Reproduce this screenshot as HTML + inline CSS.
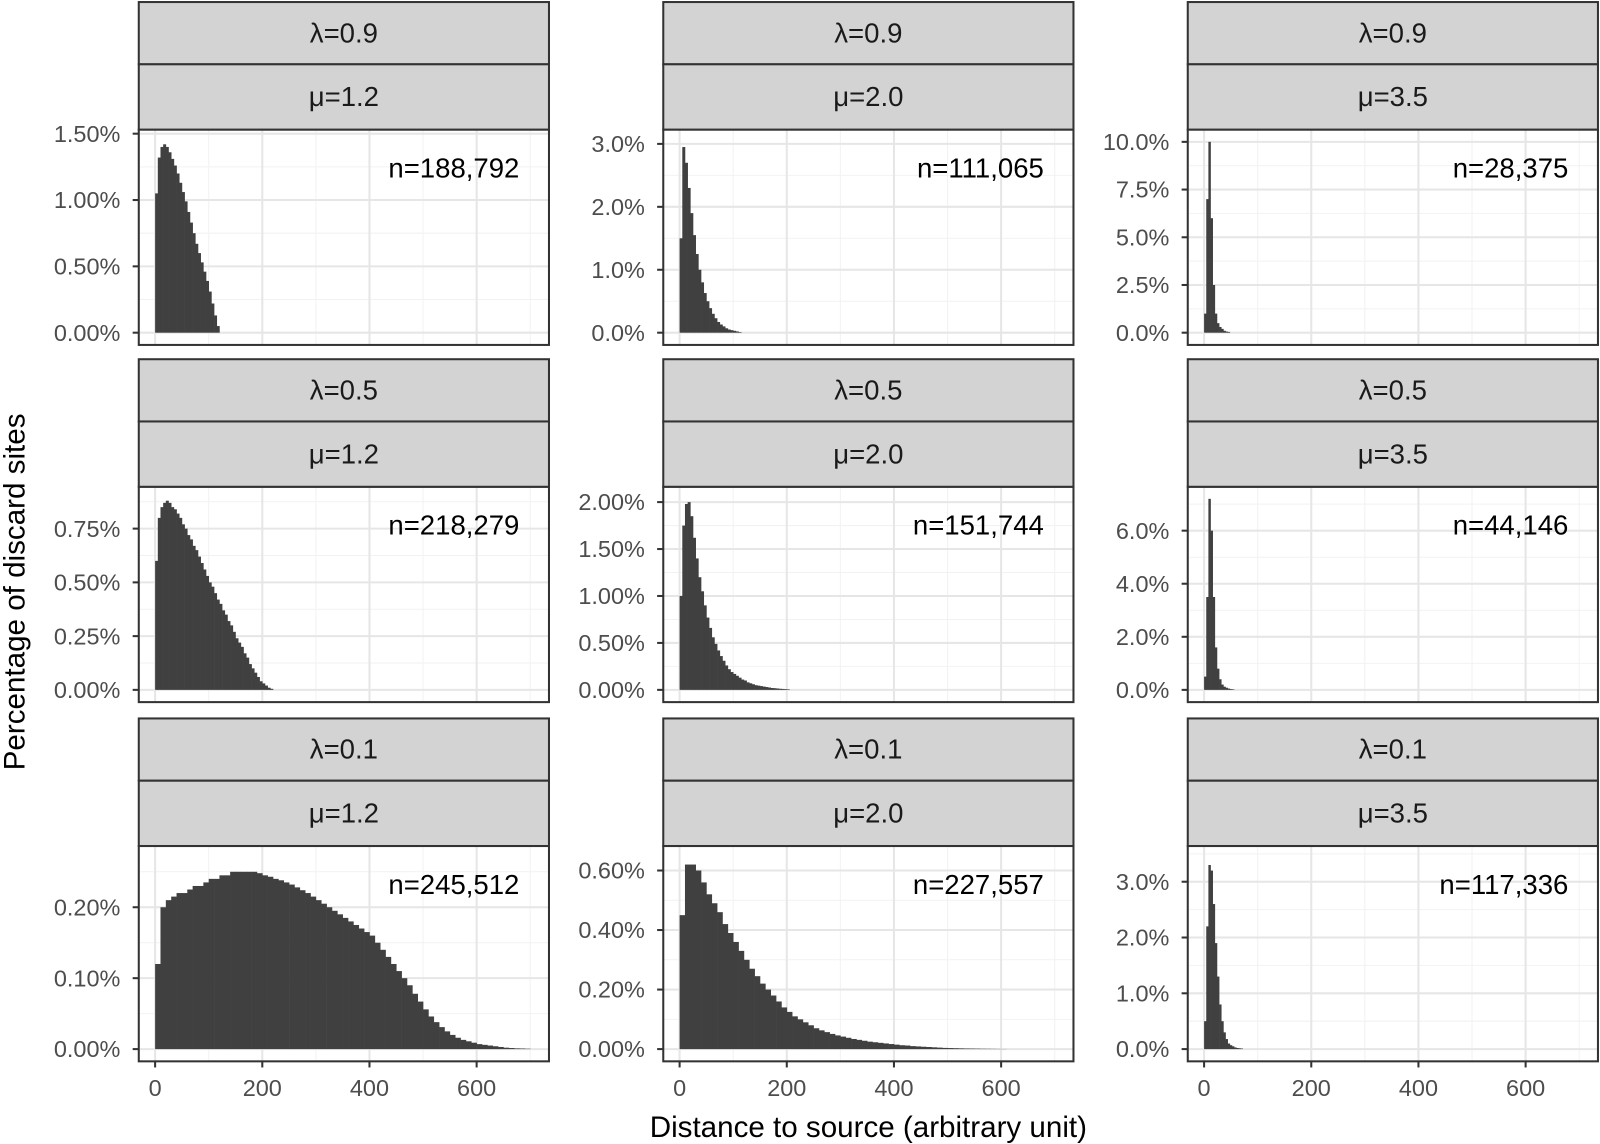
<!DOCTYPE html>
<html><head><meta charset="utf-8">
<style>
html,body{margin:0;padding:0;background:#fff;}
svg{display:block;font-family:"Liberation Sans",Arial,sans-serif;}
</style></head>
<body>
<svg id="chart" width="1600" height="1144" viewBox="0 0 1568 1121" preserveAspectRatio="none"></svg>
<script>
// ---- data ----
const lambdas = ["0.9","0.5","0.1"];
const mus = ["1.2","2.0","3.5"];
const counts = ["n=188,792","n=111,065","n=28,375","n=218,279","n=151,744","n=44,146","n=245,512","n=227,557","n=117,336"];
const binWidths = [5,5,4,5,5,4,10,10,4];
const yMaxes = [1.5,3.0,10.0,0.75,2.0,6.0,0.2,0.6,3.0];
const yTicks0 = ["0.00%","0.50%","1.00%","1.50%"];
const yTicks1 = ["0.0%","1.0%","2.0%","3.0%"];
const yTicks2 = ["0.0%","2.5%","5.0%","7.5%","10.0%"];
const yTicks3 = ["0.00%","0.25%","0.50%","0.75%"];
const yTicks4 = ["0.00%","0.50%","1.00%","1.50%","2.00%"];
const yTicks5 = ["0.0%","2.0%","4.0%","6.0%"];
const yTicks6 = ["0.00%","0.10%","0.20%"];
const yTicks7 = ["0.00%","0.20%","0.40%","0.60%"];
const yTicks8 = ["0.0%","1.0%","2.0%","3.0%"];
const xTicks = [0,200,400,600];
const vals0 = [1.05,1.32,1.40,1.42,1.40,1.36,1.31,1.26,1.20,1.13,1.06,0.99,0.91,0.83,0.75,0.67,0.60,0.53,0.46,0.39,0.31,0.22,0.13,0.05];
const vals1 = [1.5,2.95,2.7,2.3,1.9,1.55,1.25,1.0,0.8,0.63,0.5,0.39,0.3,0.23,0.17,0.13,0.1,0.07,0.05,0.04,0.03,0.02,0.01];
const vals2 = [1.0,7.0,10.0,6.0,2.5,1.0,0.5,0.3,0.2,0.1,0.06,0.04];
const vals3 = [0.6,0.8,0.85,0.87,0.88,0.87,0.85,0.84,0.82,0.8,0.77,0.75,0.72,0.7,0.67,0.65,0.62,0.59,0.56,0.53,0.5,0.48,0.45,0.42,0.4,0.37,0.35,0.32,0.3,0.27,0.24,0.22,0.2,0.17,0.15,0.12,0.1,0.08,0.06,0.04,0.03,0.02,0.01,0.005];
const vals4 = [1.0,1.75,1.98,2.0,1.85,1.62,1.4,1.2,1.05,0.9,0.77,0.66,0.56,0.49,0.42,0.36,0.31,0.26,0.22,0.19,0.17,0.15,0.13,0.11,0.1,0.08,0.07,0.06,0.05,0.045,0.04,0.035,0.03,0.025,0.02,0.018,0.015,0.012,0.01,0.008,0.006];
const vals5 = [0.5,3.5,7.2,6.0,3.5,1.6,0.8,0.4,0.2,0.12,0.08,0.05,0.03,0.02];
const vals6 = [0.12,0.2,0.21,0.215,0.22,0.22,0.225,0.23,0.23,0.235,0.24,0.24,0.245,0.245,0.25,0.25,0.25,0.25,0.25,0.248,0.245,0.243,0.24,0.238,0.235,0.232,0.228,0.224,0.22,0.215,0.21,0.205,0.2,0.195,0.19,0.185,0.18,0.175,0.17,0.165,0.16,0.15,0.14,0.13,0.12,0.11,0.1,0.09,0.078,0.067,0.056,0.046,0.038,0.031,0.025,0.02,0.016,0.013,0.011,0.009,0.007,0.006,0.005,0.004,0.003,0.002,0.0015,0.001,0.0008,0.0005];
const vals7 = [0.45,0.62,0.62,0.6,0.56,0.52,0.49,0.46,0.42,0.39,0.36,0.33,0.3,0.27,0.245,0.22,0.2,0.18,0.16,0.14,0.125,0.11,0.1,0.09,0.08,0.07,0.063,0.057,0.051,0.046,0.042,0.038,0.034,0.031,0.028,0.025,0.023,0.021,0.019,0.017,0.015,0.013,0.012,0.01,0.009,0.008,0.007,0.006,0.005,0.004,0.0035,0.003,0.0025,0.002,0.0018,0.0015,0.0012,0.001,0.0008,0.0006,0.0004];
const vals8 = [0.5,2.2,3.3,3.2,2.6,1.9,1.3,0.8,0.5,0.3,0.18,0.1,0.07,0.05,0.03,0.02,0.015,0.01];

const allVals=[vals0,vals1,vals2,vals3,vals4,vals5,vals6,vals7,vals8];
const allTicks=[yTicks0,yTicks1,yTicks2,yTicks3,yTicks4,yTicks5,yTicks6,yTicks7,yTicks8];

const NS="http://www.w3.org/2000/svg";
const svg=document.getElementById('chart');
function mk(tag,attrs,parent){const e=document.createElementNS(NS,tag);for(const k in attrs)e.setAttribute(k,attrs[k]);(parent||svg).appendChild(e);return e;}

const colX=[136,650,1164], panelW=402;
const rowY=[2,352,704];
const stripH1=61, stripH2=64, panelH=211;
const xMin=-30.5, xMax=735;

for(let r=0;r<3;r++){for(let c=0;c<3;c++){
  const i=r*3+c;
  const px=colX[c], st=rowY[r], py=st+stripH1+stripH2, pb=py+panelH;
  const g=mk('g',{});
  
  
  const xs=v=>px+(v-xMin)/(xMax-xMin)*panelW;
  const zeroY=pb-12, topTickVal=yMaxes[i];
  const ticks=allTicks[i];
  const topTickY=[131,141,139,518,492,520,889,853,864][i];
  const ys=v=>zeroY-(v/topTickVal)*(zeroY-topTickY);
  mk('rect',{x:px,y:py,width:panelW,height:panelH,fill:'#fff'},g);
  const nT=ticks.length, step=topTickVal/(nT-1);
  for(let k=0;k<nT;k++){const yv=ys(k*step+step/2); if(yv>py&&yv<pb) mk('line',{x1:px,x2:px+panelW,y1:yv,y2:yv,stroke:'#f2f2f2','stroke-width':1},g);}
  [100,300,500,700].forEach(v=>{const xv=xs(v);mk('line',{x1:xv,x2:xv,y1:py,y2:pb,stroke:'#f2f2f2','stroke-width':1},g);});
  for(let k=0;k<nT;k++){const yv=ys(k*step); mk('line',{x1:px,x2:px+panelW,y1:yv,y2:yv,stroke:'#e6e6e6','stroke-width':2},g);}
  xTicks.forEach(v=>{const xv=xs(v);mk('line',{x1:xv,x2:xv,y1:py,y2:pb,stroke:'#e6e6e6','stroke-width':2},g);});
  const vals=allVals[i], bw=binWidths[i];
  vals.forEach((v,j)=>{
    const x0=xs(j*bw), x1=xs((j+1)*bw);
    const b=mk('rect',{x:x0,y:ys(v),width:x1-x0+0.3,height:Math.max(0,zeroY-ys(v)),fill:'#404040'},g);
    
    
  });
  mk('rect',{x:px,y:py,width:panelW,height:panelH,fill:'none',stroke:'#333','stroke-width':2},g);
  const s1=mk('rect',{x:px,y:st,width:panelW,height:stripH1,fill:'#d3d3d3',stroke:'#333','stroke-width':2},g);
  
  
  const s2=mk('rect',{x:px,y:st+stripH1,width:panelW,height:stripH2,fill:'#d3d3d3',stroke:'#333','stroke-width':2},g);
  
  
  const t1=mk('text',{x:px+panelW/2,y:st+stripH1/2+9,'text-anchor':'middle','font-size':27,fill:'#1a1a1a'},g);
  t1.textContent='λ='+lambdas[r];
  
  
  const t2=mk('text',{x:px+panelW/2,y:st+stripH1+stripH2/2+9,'text-anchor':'middle','font-size':27,fill:'#1a1a1a'},g);
  t2.textContent='μ='+mus[c];
  
  
  const nl=mk('text',{x:px+373,y:py+47,'text-anchor':'end','font-size':27,fill:'#000'},g);
  nl.textContent=counts[i];
  
  
  for(let k=0;k<nT;k++){const yv=ys(k*step);
    mk('line',{x1:px-6,x2:px,y1:yv,y2:yv,stroke:'#333','stroke-width':2},g);
    const tl=mk('text',{x:px-18,y:yv+8,'text-anchor':'end','font-size':23,fill:'#4d4d4d'},g);
    tl.textContent=ticks[k];
    
    
  }
  if(r===2){xTicks.forEach(v=>{const xv=xs(v);
    mk('line',{x1:xv,x2:xv,y1:pb,y2:pb+6,stroke:'#333','stroke-width':2},g);
    const xl=mk('text',{x:xv,y:pb+34,'text-anchor':'middle','font-size':23,fill:'#4d4d4d'},g);
    xl.textContent=v;
    
    
  });}
}}
const xt=mk('text',{x:851,y:1114,'text-anchor':'middle','font-size':29,fill:'#000'});
xt.textContent='Distance to source (arbitrary unit)';


const yt=mk('text',{x:0,y:0,'text-anchor':'middle','font-size':29,fill:'#000',transform:'translate(24,580) rotate(-90)'});
yt.textContent='Percentage of discard sites';


</script>
</body></html>
